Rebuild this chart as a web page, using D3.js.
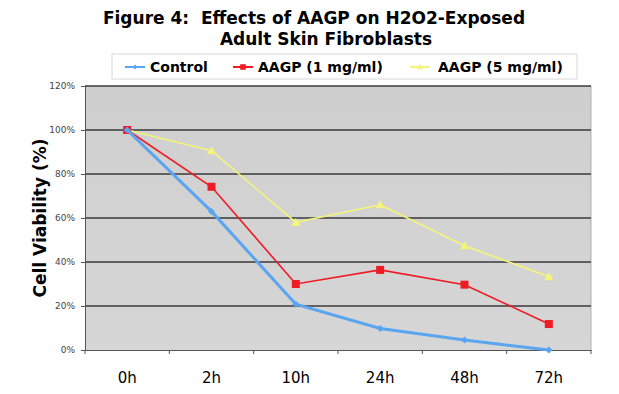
<!DOCTYPE html>
<html>
<head>
<meta charset="utf-8">
<script src="https://cdn.jsdelivr.net/npm/d3@7"></script>
<style>
  body { margin: 0; background: #fff; }
  text { font-family: Verdana, "DejaVu Sans", sans-serif; }
</style>
</head>
<body>
<div id="chart"></div>
<script>
// data
var times = ['0h', '2h', '10h', '24h', '48h', '72h']
var control = [100, 63, 20.8, 9.8, 4.5, 0]
var aagp1 = [100, 74.2, 30, 36.4, 29.7, 11.8]
var aagp5 = [100, 90.6, 58, 66, 47.4, 33.3]
var yTicks = [0, 20, 40, 60, 80, 100, 120]

var series = [
  { name: 'Control', values: control, color: '#5aa5f0', marker: 'diamond', width: 3 },
  { name: 'AAGP (1 mg/ml)', values: aagp1, color: '#ee1c25', marker: 'square', width: 1.6 },
  { name: 'AAGP (5 mg/ml)', values: aagp5, color: '#f4f47a', marker: 'triangle', width: 1.6 }
]

var W = 619, H = 394
var margin = { top: 86, right: 28, bottom: 44, left: 85 }
var w = W - margin.left - margin.right
var h = H - margin.top - margin.bottom

var svg = d3.select('#chart').append('svg')
    .attr('width', W)
    .attr('height', H)

// title
var title = svg.append('text')
    .attr('x', 314)
    .attr('y', 24)
    .style('text-anchor', 'middle')
    .style('font-size', '17px')
    .style('font-weight', 'bold')
    .style('white-space', 'pre')
title.append('tspan').attr('x', 314).attr('dy', 0).text('Figure 4:  Effects of AAGP on H2O2-Exposed')
title.append('tspan').attr('x', 326).attr('dy', 21).text('Adult Skin Fibroblasts')

// legend box
svg.append('rect')
    .attr('x', 112).attr('y', 54)
    .attr('width', 465).attr('height', 25)
    .attr('fill', '#fff')
    .attr('stroke', '#d8d8d8')

var legendX = [125, 233, 410]
var legend = svg.selectAll('.legend')
    .data(series)
  .enter().append('g')
    .attr('class', 'legend')
    .attr('transform', function (d, i) { return 'translate(' + legendX[i] + ',67)' })

legend.append('line')
    .attr('x1', 0).attr('x2', 20)
    .attr('stroke', function (d) { return d.color })
    .attr('stroke-width', 2)
legend.append('path')
    .attr('transform', 'translate(10,0)')
    .attr('d', function (d) { return markerPath(d.marker, 0.7) })
    .attr('fill', function (d) { return d.color })
legend.append('text')
    .attr('x', function (d, i) { return i == 2 ? 28 : 25 })
    .attr('y', 5)
    .style('font-size', '14px')
    .style('font-weight', 'bold')
    .text(function (d) { return d.name })

var g = svg.append('g')
    .attr('transform', 'translate(' + margin.left + ',' + margin.top + ')')

// scales
var xScale = d3.scaleBand().domain(times).range([0, w])
var yScale = d3.scaleLinear().domain([0, 120]).range([h, 0])

// plot background gradient
var defs = svg.append('defs')
var grad = defs.append('linearGradient')
    .attr('id', 'bg').attr('x1', 0).attr('x2', 0).attr('y1', 0).attr('y2', 1)
grad.append('stop').attr('offset', '0%').attr('stop-color', '#cfcfcf')
grad.append('stop').attr('offset', '100%').attr('stop-color', '#d6d6d6')

g.append('rect')
    .attr('width', w).attr('height', h)
    .attr('fill', 'url(#bg)')
g.append('line')
    .attr('x1', w).attr('x2', w).attr('y1', 0).attr('y2', h)
    .attr('stroke', '#b0b0b0')

// gridlines
g.selectAll('.grid')
    .data(yTicks.slice(1))
  .enter().append('line')
    .attr('class', 'grid')
    .attr('x1', 0).attr('x2', w)
    .attr('y1', function (d) { return yScale(d) })
    .attr('y2', function (d) { return yScale(d) })
    .attr('stroke', '#3a3a3a')
    .attr('stroke-width', 1.5)

// y axis
var yAxis = d3.axisLeft(yScale)
    .tickValues(yTicks)
    .tickSize(4)
    .tickFormat(function (d) { return d + '%' })
var ya = g.append('g').call(yAxis)
ya.select('.domain').attr('stroke', '#555')
ya.selectAll('.tick line').attr('stroke', '#555')
ya.selectAll('text')
    .attr('x', -10)
    .style('font-size', '9px')
    .attr('fill', '#444')

// x axis
var xAxis = d3.axisBottom(xScale).tickSize(0).tickPadding(22)
var xa = g.append('g')
    .attr('transform', 'translate(0,' + h + ')')
    .call(xAxis)
xa.select('.domain').attr('stroke', '#555')
xa.selectAll('text').style('font-size', '15px').attr('fill', '#000')
// tick marks at band edges
xa.selectAll('.edge')
    .data(d3.range(times.length + 1))
  .enter().append('line')
    .attr('class', 'edge')
    .attr('x1', function (i) { return i * xScale.step() })
    .attr('x2', function (i) { return i * xScale.step() })
    .attr('y1', 0).attr('y2', 4)
    .attr('stroke', '#555')

// y axis title
svg.append('text')
    .attr('transform', 'translate(46,' + (margin.top + h / 2) + ') rotate(-90)')
    .style('text-anchor', 'middle')
    .style('font-size', '17px')
    .style('font-weight', 'bold')
    .text('Cell Viability (%)')

function markerPath(type, s) {
  if (type == 'square') return 'M' + (-4 * s) + ',' + (-4 * s) + 'h' + (8 * s) + 'v' + (8 * s) + 'h' + (-8 * s) + 'Z'
  if (type == 'triangle') return 'M0,' + (-4.5 * s) + 'L' + (4.5 * s) + ',' + (3.5 * s) + 'L' + (-4.5 * s) + ',' + (3.5 * s) + 'Z'
  return 'M0,' + (-3.5 * s) + 'L' + (3.5 * s) + ',0L0,' + (3.5 * s) + 'L' + (-3.5 * s) + ',0Z'
}

var line = d3.line()
    .x(function (d, i) { return xScale(times[i]) + xScale.bandwidth() / 2 })
    .y(function (d) { return yScale(d) })

// draw in order so control sits below
var order = [series[2], series[1], series[0]]
order.forEach(function (s) {
  g.append('path')
      .datum(s.values)
      .attr('fill', 'none')
      .attr('stroke', s.color)
      .attr('stroke-width', s.width)
      .attr('d', line)
  g.selectAll('.m-' + s.marker)
      .data(s.values)
    .enter().append('path')
      .attr('class', 'm-' + s.marker)
      .attr('transform', function (d, i) {
        return 'translate(' + (xScale(times[i]) + xScale.bandwidth() / 2) + ',' + yScale(d) + ')'
      })
      .attr('d', markerPath(s.marker, 1))
      .attr('fill', s.color)
})
</script>
</body>
</html>
